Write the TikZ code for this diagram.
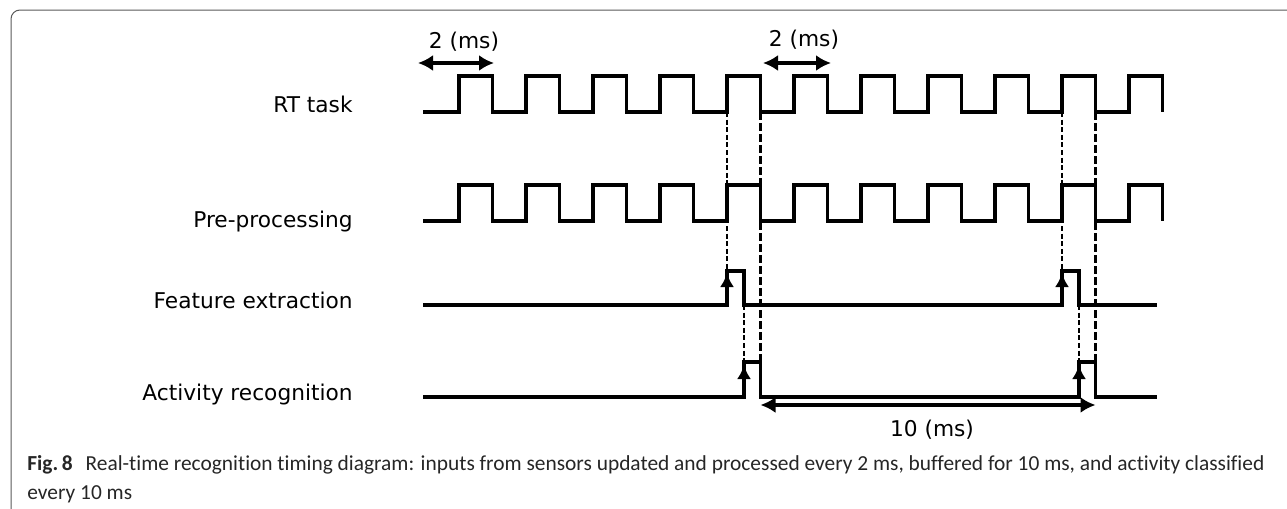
\documentclass[tikz,border=0pt]{standalone}
\usepackage{fontspec}
\setmainfont{DejaVu Sans}
\newfontfamily\capfont[Ligatures=NoCommon]{Carlito}
\usetikzlibrary{arrows.meta}

\begin{document}
\begin{tikzpicture}[x=0.5pt, y=-0.5pt,
        wave/.style={line width=1.8pt},
        sync/.style={line width=0.9pt, dash pattern=on 2.5pt off 1.3pt},
        syncthick/.style={line width=1.4pt, dash pattern=on 4pt off 1.5pt},
        period/.style={line width=1.6pt, {Latex[length=7.5pt,width=8pt]}-{Latex[length=7.5pt,width=8pt]}},
        trigger/.style={line width=1.8pt, -{Latex[length=7pt,width=7pt]}},
        rowname/.style={anchor=base east, inner sep=0pt, font=\fontsize{10.85}{13}\selectfont},
        dimtext/.style={font=\fontsize{10.85}{13}\selectfont}]
        \useasboundingbox (0,0) rectangle (1287,509);

        % Frame
        \draw[black!65, line width=0.5pt, rounded corners=4.5pt] (11,509) |- (1287,10);

        % Row names
        \node[rowname] (rt) at (353,112) {RT task};
        \node[rowname] (pre) at (353,227) {Pre-processing};
        \node[rowname] (feat) at (353,308) {Feature extraction};
        \node[rowname] (act) at (353,400) {Activity recognition};

        % RT task and pre-processing clocks
        \draw[wave] (423,112) foreach \i in {0,...,10} { -- ({459+67*\i},112) |- ++(33.5,-36) -- ++(0,36) };
        \draw[wave] (423,221) foreach \i in {0,...,10} { -- ({459+67*\i},221) |- ++(33.5,-36) -- ++(0,36) };

        % Feature extraction
        \draw[wave] (423,305) -| (727,271) -| (744,305) -| (1062,271) -| (1079,305) -- (1157,305);
        \draw[trigger] (727,302) -- (727,273);
        \draw[trigger] (1062,302) -- (1062,273);

        % Activity recognition
        \draw[period] (760.5,405) coordinate (tenA) -- (1095.5,405) coordinate (tenB);
        \draw[wave] (423,397) -| (744,362) -| (760.5,397) -| (1079,362) -| (1095.5,397) -- (1157,397);
        \draw[trigger] (744,394) -- (744,365);
        \draw[trigger] (1079,394) -- (1079,365);

        % Sync lines
        \draw[sync] (727,112) -- (727,271);
        \draw[syncthick] (760.5,112) -- (760.5,362);
        \draw[sync] (744,305) -- (744,362);
        \draw[sync] (1062,112) -- (1062,271);
        \draw[syncthick] (1095.5,112) -- (1095.5,362);
        \draw[sync] (1079,305) -- (1079,362);

        % Periods
        \coordinate (twoA) at (418,63);
        \coordinate (twoB) at (494,63);
        \coordinate (twoC) at (763,63);
        \coordinate (twoD) at (831,63);
        \draw[period] (twoA) -- (twoB);
        \draw[period] (twoC) -- (twoD);
        \node[dimtext] (msA) at (464,42) {2 (ms)};
        \node[dimtext] (msB) at (804,40) {2 (ms)};
        \node[dimtext] (msC) at (932,430) {10 (ms)};

        % Caption
        \node[anchor=base west, align=left, inner sep=0pt, text=black!85,
              font=\capfont\fontsize{10.7}{14.5}\selectfont] (cap) at (27,499)
              {\textbf{Fig.\,8}\hspace{0.6em}Real-time recognition timing diagram: inputs from sensors updated and processed every 2 ms, buffered for 10 ms, and activity classified\\every 10 ms};
    \end{tikzpicture}
\end{document}
